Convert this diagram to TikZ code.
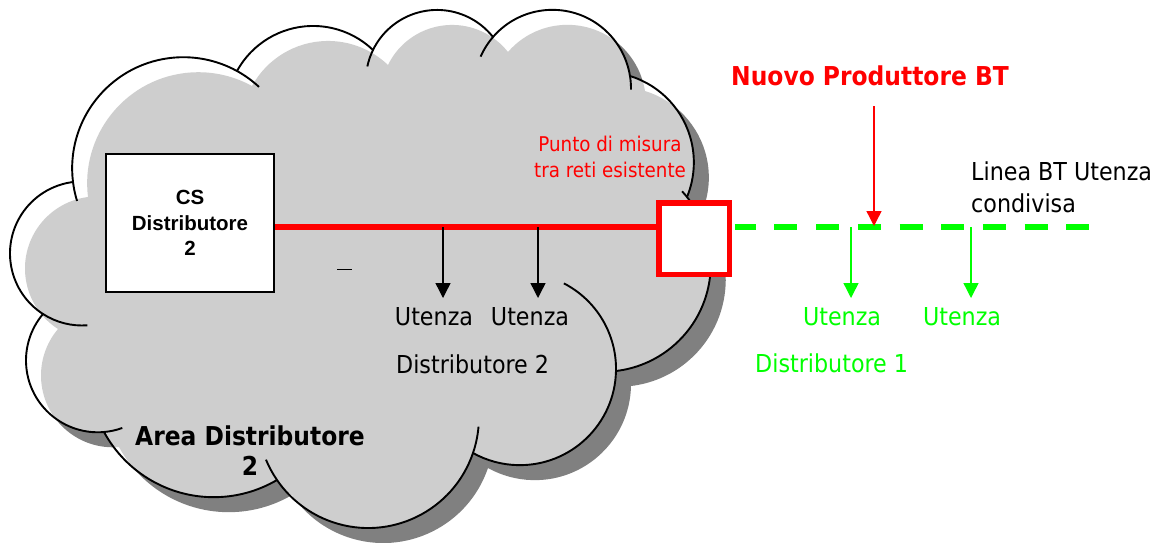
\documentclass[tikz,border=0pt]{standalone}
\usepackage{fontspec}
\setmainfont{DejaVu Sans Condensed}
\newfontfamily\labelfont{DejaVu Sans Condensed}
\newfontfamily\boxfont{Liberation Sans}
\usetikzlibrary{arrows.meta}

\definecolor{linered}{RGB}{255,0,0}
\definecolor{linegreen}{RGB}{0,255,0}
\definecolor{cloudfill}{RGB}{206,206,206}
\definecolor{cloudshadow}{RGB}{128,128,128}

% One bump of the cloud: circle through start, middle and end point
% (y grows downwards, so increasing angles run clockwise on the page).
% Stores centre (u,v), radius r, start angle s, end angle e, start point x,y.
\newcommand\defbump[7]{%
  \edef\tmpd{\fpeval{2*((#2)*((#5)-(#7)) + (#4)*((#7)-(#3)) + (#6)*((#3)-(#5)))}}%
  \edef\tmpux{\fpeval{(((#2)^2+(#3)^2)*((#5)-(#7)) + ((#4)^2+(#5)^2)*((#7)-(#3)) + ((#6)^2+(#7)^2)*((#3)-(#5)))/\tmpd}}%
  \edef\tmpuy{\fpeval{(((#2)^2+(#3)^2)*((#6)-(#4)) + ((#4)^2+(#5)^2)*((#2)-(#6)) + ((#6)^2+(#7)^2)*((#4)-(#2)))/\tmpd}}%
  \edef\tmpsa{\fpeval{atand((#3)-\tmpuy,(#2)-\tmpux)}}%
  \edef\tmpea{\fpeval{atand((#7)-\tmpuy,(#6)-\tmpux)}}%
  \expandafter\xdef\csname bump#1u\endcsname{\tmpux}%
  \expandafter\xdef\csname bump#1v\endcsname{\tmpuy}%
  \expandafter\xdef\csname bump#1r\endcsname{\fpeval{sqrt(((#2)-\tmpux)^2+((#3)-\tmpuy)^2)}}%
  \expandafter\xdef\csname bump#1s\endcsname{\tmpsa}%
  \expandafter\xdef\csname bump#1e\endcsname{\fpeval{\tmpea < \tmpsa ? \tmpea+360 : \tmpea}}%
  \expandafter\xdef\csname bump#1x\endcsname{#2}%
  \expandafter\xdef\csname bump#1y\endcsname{#3}%
}
\defbump{a}{43}{314}{10}{253}{73}{182}
\defbump{b}{73}{182}{170}{58}{237}{71}
\defbump{c}{237}{71}{310}{26}{373}{50}
\defbump{d}{373}{50}{440}{10}{493}{37}
\defbump{e}{493}{37}{547}{10}{630}{76}
\defbump{f}{630}{76}{693}{150}{687}{197}
\defbump{g}{687}{197}{697}{317}{616}{371}
\defbump{h}{616}{371}{570}{451}{473}{453}
\defbump{i}{473}{453}{367}{528}{277}{480}
\defbump{j}{277}{480}{207}{497}{104}{432}
\defbump{k}{104}{432}{26}{360}{43}{314}

\newcommand\bumparc[1]{arc[start angle=\csname bump#1s\endcsname,
  end angle=\csname bump#1e\endcsname, radius=\csname bump#1r\endcsname]}
\newcommand\cloudshape{(\bumpax,\bumpay) \bumparc{a} \bumparc{b} \bumparc{c}
  \bumparc{d} \bumparc{e} \bumparc{f} \bumparc{g} \bumparc{h} \bumparc{i}
  \bumparc{j} \bumparc{k} -- cycle}
% piece of a bump's circle between two angles
\newcommand\arcpiece[3]{%
  \draw[cloudline] ([shift={(#2:\csname bump#1r\endcsname)}]\csname bump#1u\endcsname,\csname bump#1v\endcsname)
    arc[start angle=#2, end angle=#3, radius=\csname bump#1r\endcsname];}

\tikzset{
  cloudline/.style={line width=1.9pt, line join=round},
  lbl/.style={inner sep=0pt, font=\labelfont\fontsize{24.7}{30}\selectfont},
  lblbold/.style={inner sep=0pt, font=\labelfont\bfseries\fontsize{26}{29.5}\selectfont},
  csbox/.style={draw, line width=1.6pt, fill=white, minimum width=168pt,
    minimum height=138pt, inner sep=0pt, align=center,
    font=\boxfont\bfseries\fontsize{20.5}{25.5}\selectfont},
  meterbox/.style={draw=linered, line width=5.5pt, fill=white,
    minimum width=70.5pt, minimum height=71.5pt, inner sep=0pt},
  bus/.style={draw=linered, line width=5.5pt},
  shared/.style={draw=linegreen, line width=6pt, dash pattern=on 23pt off 18.7pt, dash phase=2pt},
  tap/.style={draw=black, line width=1.4pt, -{Triangle[width=15pt,length=15pt]}},
  gtap/.style={draw=linegreen, line width=1.4pt, -{Triangle[width=15pt,length=15pt]}},
  feedin/.style={draw=linered, line width=1.4pt, -{Triangle[width=15pt,length=15pt]}},
}

\begin{document}
\begin{tikzpicture}[x=1pt,y=-1pt]
\useasboundingbox (0,0) rectangle (1166,542);

% cloud: shadow, body, shaded fill, outline
\fill[cloudshadow, shift={(15,15)}] \cloudshape;
\fill[white] \cloudshape;
\begin{scope}
  \clip \cloudshape;
  \fill[cloudfill, shift={(15,15)}] \cloudshape;
\end{scope}
\draw[cloudline] \cloudshape;
% inner ends of the arcs
\arcpiece{a}{\bumpas-37}{\bumpas}
\arcpiece{b}{\bumpbs-10}{\bumpbs}
\arcpiece{b}{\bumpbe}{\bumpbe+14}
\arcpiece{d}{\bumpds-14}{\bumpds}
\arcpiece{e}{\bumpes-17}{\bumpes}
\arcpiece{e}{\bumpee}{\bumpee+10}
\arcpiece{g}{\bumpgs-4}{\bumpgs}
\arcpiece{h}{\bumphs-64}{\bumphs}
\arcpiece{i}{\bumpis-14}{\bumpis}
\arcpiece{i}{\bumpie}{\bumpie+12}
\arcpiece{k}{\bumpks-15}{\bumpks}
\draw[line width=0.8pt] (337,269) -- (352,269);

% substation and metering point
\node[csbox] (cs) at (190,223) {CS\\Distributore\\2};
\node[meterbox] (meter) at (694,238.5) {};
\draw[bus] ([yshift=-4pt]cs.east) -- ([yshift=11.5pt]meter.west);
\coordinate (lend) at (1090,227);
\draw[shared, shorten <=2.75pt] ([yshift=11.5pt]meter.east) -- (lend);

% users of distributor 2
\coordinate (b1) at (443,227); \coordinate (b1e) at (443,298);
\coordinate (b2) at (538,227); \coordinate (b2e) at (538,298);
\draw[tap] (b1) -- (b1e);
\draw[tap] (b2) -- (b2e);
\node[lbl, anchor=base] (u1) at (434,325) {Utenza};
\node[lbl, anchor=base] (u2) at (530,325) {Utenza};
\node[lbl, anchor=base west] (d2) at (396,373) {Distributore 2};

% users of distributor 1 on the shared line
\coordinate (g1) at (851,227); \coordinate (g1e) at (851,298);
\coordinate (g2) at (971,227); \coordinate (g2e) at (971,298);
\draw[gtap] (g1) -- (g1e);
\draw[gtap] (g2) -- (g2e);
\node[lbl, anchor=base, text=linegreen] (u3) at (842,325) {Utenza};
\node[lbl, anchor=base, text=linegreen] (u4) at (962,325) {Utenza};
\node[lbl, anchor=base west, text=linegreen] (d1) at (755,372) {Distributore 1};

% new producer
\node[lblbold, anchor=base west, text=linered] (nuovo) at (731,85) {Nuovo Produttore BT};
\coordinate (p0) at (874,106); \coordinate (p1) at (874,226);
\draw[feedin] (p0) -- (p1);

% remaining labels
\node[lbl, text=linered, align=center, font=\labelfont\fontsize{20.3}{25.6}\selectfont] (punto) at (610,157) {Punto di misura\\tra reti esistente};
\node[lbl, anchor=west, align=left, font=\labelfont\fontsize{24.7}{32}\selectfont] (linea) at (971,187.5) {Linea BT Utenza\\condivisa};
\node[lblbold, align=center] (area) at (250,450.5) {Area Distributore\\2};
\end{tikzpicture}
\end{document}
